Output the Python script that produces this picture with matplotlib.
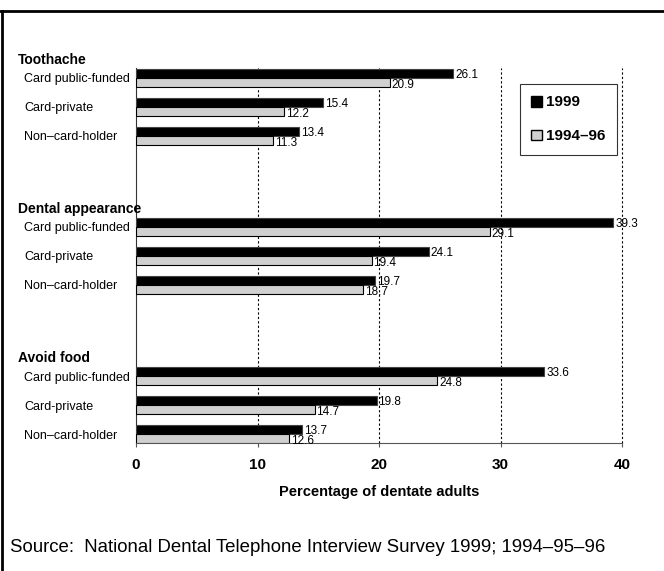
import matplotlib
matplotlib.use("Agg")
import matplotlib.pyplot as plt
from matplotlib.lines import Line2D
from matplotlib.patches import Patch
import matplotlib.transforms as mtransforms

plt.rcParams['font.family'] = ['Liberation Sans', 'DejaVu Sans']

groups = ["Toothache", "Dental appearance", "Avoid food"]
categories = ["Card public-funded", "Card-private", "Non\u2013card-holder"]
series_names = ["1999", "1994\u201396"]
vals_1999 = [[26.1, 15.4, 13.4], [39.3, 24.1, 19.7], [33.6, 19.8, 13.7]]
vals_9496 = [[20.9, 12.2, 11.3], [29.1, 19.4, 18.7], [24.8, 14.7, 12.6]]
xticks = [0, 10, 20, 30, 40]
xlabel = "Percentage of dentate adults"
source = "Source:  National Dental Telephone Interview Survey 1999; 1994\u201395\u201396"

fig = plt.figure(figsize=(6.64, 5.71), dpi=100)
ax = fig.add_axes([136/664, 1-443/571, 486/664, 375/571])

group_step = 5.14
bh = 0.3
trans = mtransforms.blended_transform_factory(fig.transFigure, ax.transData)
for g, grp in enumerate(groups):
    for i, cat in enumerate(categories):
        y = g * group_step + i
        a = vals_1999[g][i]
        b = vals_9496[g][i]
        ax.barh(y - bh/2, a, height=bh, color="black", edgecolor="#444444",
                linewidth=0.8, zorder=3)
        ax.barh(y + bh/2, b, height=bh, color="#d0d0d0", edgecolor="black",
                linewidth=0.8, zorder=3)
        ax.text(a + 0.15, y - bh/2, f"{a:.1f}", fontsize=8.5,
                va="center_baseline", ha="left", zorder=4)
        ax.text(b + 0.15, y + bh/2 + 0.03, f"{b:.1f}", fontsize=8.5,
                va="center_baseline", ha="left", zorder=4)
        # category label, left aligned
        ax.text(24/664, y, cat, transform=trans, fontsize=9,
                ha="left", va="center_baseline")
    # group heading
    ax.text(18/664, g * group_step - 0.68, grp, transform=trans, fontsize=10,
            fontweight="bold", ha="left", va="center_baseline")

ax.set_ylim(12.59, -0.34)
ax.set_xlim(0, 40)
ax.set_yticks([])
ax.set_xticks(xticks)
ax.set_xticklabels([str(t) for t in xticks], fontsize=11, fontweight="bold")
ax.tick_params(axis="x", length=3, pad=8, color="#555555")
ax.set_xlabel(xlabel, fontsize=10.5, fontweight="bold", labelpad=9)

for t in xticks[1:]:
    ax.axvline(t, color="black", linestyle=(0, (2, 2)), linewidth=0.8,
               zorder=1, clip_on=False)

ax.spines["top"].set_visible(False)
ax.spines["right"].set_visible(False)
ax.spines["left"].set_color("#333333")
ax.spines["bottom"].set_color("#555555")

handles = [Patch(facecolor="black", edgecolor="black", label=series_names[0]),
           Patch(facecolor="#d0d0d0", edgecolor="black", label=series_names[1])]
leg = ax.legend(handles=handles, loc="upper left",
                bbox_to_anchor=(520/664, 1-84/571),
                bbox_transform=fig.transFigure, borderaxespad=0,
                prop={"weight": "bold", "size": 11}, frameon=True,
                fancybox=False, handlelength=0.72, handleheight=0.72,
                handletextpad=0.25, labelspacing=1.3, borderpad=0.75)
leg.get_frame().set_edgecolor("black")
leg.get_frame().set_linewidth(0.8)

fig.text(10/664, 1-547/571, source, fontsize=13.4, ha="left", va="center")

# outer frame lines
fig.add_artist(Line2D([0, 1], [1-11/571, 1-11/571], color="black", linewidth=2,
                      transform=fig.transFigure))
fig.add_artist(Line2D([2/664, 2/664], [0, 1-11/571], color="black", linewidth=2,
                      transform=fig.transFigure))

fig.savefig("out.png", dpi=100)
